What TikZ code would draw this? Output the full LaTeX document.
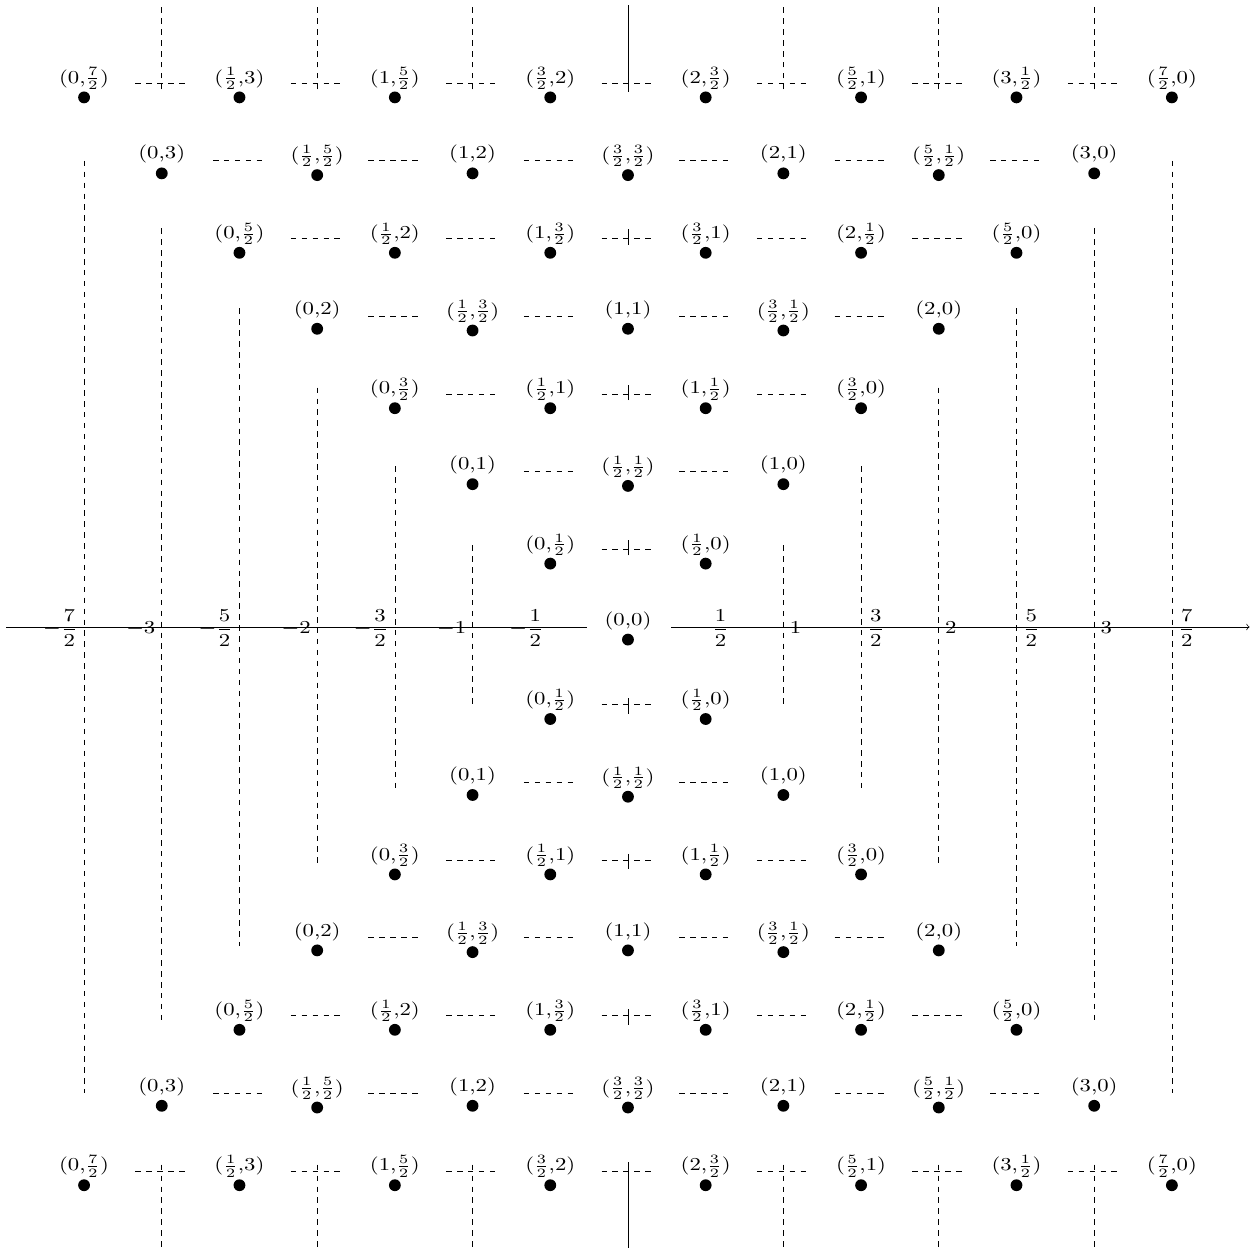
\documentclass[tikz,border=0pt]{standalone}
\usepackage{amsmath}
\usepackage{graphicx}
\newcommand\myhalf[1]{\ifodd#1\relax\(\frac{#1}{2}\)\else\the\numexpr#1/2\relax\fi}
\newcommand\myhalfd[1]{\ifodd#1\relax\dfrac{#1}{2}\else\the\numexpr#1/2\relax\fi}
\newcommand\mywide[1]{\scalebox{1.25}[1]{#1}}
\tikzset{
  lbl/.style={anchor=north, inner sep=3.33pt},
  dotnode/.style={circle, fill=black, inner sep=0pt, minimum size=6.5pt},
  seg/.style={dashed},
  axlbl/.style={inner sep=3.33pt, yshift=-0.6pt}
}
\begin{document}
\begin{tikzpicture}[x=1.5cm,y=1.5cm]
\useasboundingbox (-8.082,-7.992) rectangle (8.134,8.069);
% axis
\coordinate (axL) at (-8,0);
\coordinate (axR) at (8,0);
\coordinate (gapL) at (-0.53,0);
\coordinate (gapR) at (0.56,0);
\draw (axL) -- (gapL);
\draw[->] (gapR) -- (axR);
\foreach \c in {1,...,7}{
  \node[axlbl,anchor=east] (XN-\c) at (-\c,0) {\mywide{$-\myhalfd{\c}$}};
  \node[axlbl,anchor=west] (XP-\c) at (\c,0) {\mywide{$\myhalfd{\c}$}};
}
% long vertical dashed lines
\foreach \c/\e in {7/6.0,6/5.13,5/4.1,4/3.08,3/2.07,2/1.05}{
  \coordinate (VLt-\c) at (-\c,\e);
  \coordinate (VLb-\c) at (-\c,-\e);
  \coordinate (VRt-\c) at (\c,\e);
  \coordinate (VRb-\c) at (\c,-\e);
  \draw[seg] (VLt-\c) -- (VLb-\c);
  \draw[seg] (VRt-\c) -- (VRb-\c);
}
% outer crossing lines (top and bottom rows)
\foreach \c in {-6,-4,-2,2,4,6}{
  \coordinate (Ot-\c) at (\c,6.92);
  \coordinate (Ote-\c) at (\c,8);
  \coordinate (Ob-\c) at (\c,-6.92);
  \coordinate (Obe-\c) at (\c,-8);
  \draw[seg] (Ot-\c) -- (Ote-\c);
  \draw[seg] (Ob-\c) -- (Obe-\c);
}
\coordinate (Ot-0) at (0,6.89);
\coordinate (Ote-0) at (0,8);
\coordinate (Ob-0) at (0,-6.89);
\coordinate (Obe-0) at (0,-8);
\draw (Ot-0) -- (Ote-0);
\draw (Ob-0) -- (Obe-0);
% central ticks
\foreach \j/\s in {2/1,4/1,6/1,8/-1,10/-1,12/-1}{
  \pgfmathsetmacro\myYa{7-\j-\s*0.08}
  \pgfmathsetmacro\myYb{7-\j+\s*0.12}
  \coordinate (Ta-\j) at (0,\myYa);
  \coordinate (Tb-\j) at (0,\myYb);
  \draw (Ta-\j) -- (Tb-\j);
}
% rows of points
\foreach \j in {0,...,14}{
  \pgfmathtruncatemacro\myN{abs(7-\j)}
  \pgfmathtruncatemacro\myY{7-\j}
  \foreach \k in {0,...,\myN}{
    \pgfmathtruncatemacro\myC{-\myN+2*\k}
    \pgfmathtruncatemacro\myB{\myN-\k}
    \coordinate (G-\j-\k) at (\myC,\myY);
    \node[lbl] (L-\j-\k) at ([yshift=12pt]G-\j-\k) {\mywide{(\myhalf{\k},\myhalf{\myB})}};
    \node[dotnode] (D-\j-\k) at ([yshift=-7.9pt]L-\j-\k.base) {};
  }
  \ifnum\myN>0
  \foreach \k in {1,...,\myN}{
    \pgfmathtruncatemacro\myC{-\myN+2*\k-1}
    \coordinate (Ha-\j-\k) at (\myC-0.34,\myY);
    \coordinate (Hb-\j-\k) at (\myC+0.34,\myY);
    \draw[seg] (Ha-\j-\k) -- (Hb-\j-\k);
  }
  \fi
}
\end{tikzpicture}
\end{document}
